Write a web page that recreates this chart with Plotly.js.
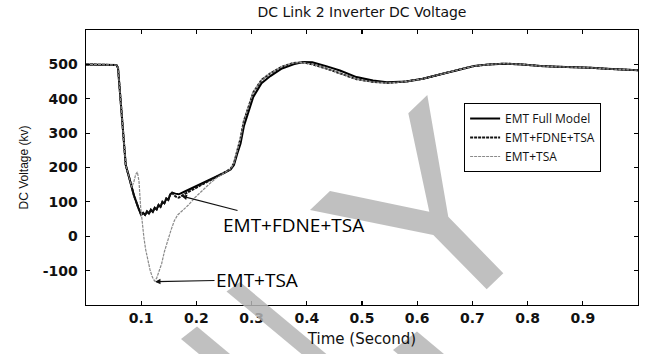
<!DOCTYPE html>
<html>
<head>
<meta charset="utf-8">
<script src="https://cdn.plot.ly/plotly-3.0.1.min.js"></script>
<style>html,body{margin:0;padding:0;background:#fff;}#chart{width:645px;height:354px;}</style>
</head>
<body>
<div id="chart"></div>
<script>
// ---- data ----
var seriesNames = ["EMT Full Model", "EMT+FDNE+TSA", "EMT+TSA"];

var timeFull = [0, 0.052, 0.055, 0.058, 0.061, 0.064, 0.068, 0.072, 0.078, 0.087, 0.095, 0.100, 0.1035, 0.107, 0.1105, 0.114, 0.1175, 0.121, 0.1245, 0.128, 0.1315, 0.135, 0.1385, 0.142, 0.1455, 0.149, 0.1525, 0.156, 0.162, 0.168, 0.180, 0.195, 0.212, 0.230, 0.250, 0.262, 0.268, 0.274, 0.280, 0.286, 0.293, 0.303, 0.318, 0.334, 0.355, 0.376, 0.393, 0.410, 0.435, 0.460, 0.490, 0.520, 0.545, 0.580, 0.610, 0.642, 0.675, 0.703, 0.730, 0.757, 0.790, 0.824, 0.855, 0.884, 0.915, 0.944, 0.975, 1.0];
var voltFull = [500, 500, 498, 490, 430, 355, 279, 207, 172, 118, 82, 62, 68, 62, 72, 66, 77, 71, 83, 78, 91, 86, 100, 96, 110, 106, 121, 127, 124, 122, 131, 142, 154, 168, 184, 194, 207, 240, 270, 320, 355, 405, 445, 466, 488, 500, 507, 506, 495, 482, 463, 453, 448, 450, 458, 471, 484, 495, 500, 502, 500, 495, 493, 492, 490, 487, 485, 483];

var timeFdne = timeFull;
var voltFdne = [500, 500, 498, 490, 430, 355, 279, 207, 172, 118, 82, 62, 68, 62, 72, 66, 77, 71, 83, 78, 91, 86, 100, 96, 110, 106, 121, 126, 116, 112, 124, 138, 152, 167, 184, 196, 212, 250, 285, 335, 372, 418, 455, 474, 493, 504, 506, 500, 488, 474, 457, 449, 446, 450, 458, 471, 484, 495, 500, 502, 500, 495, 493, 492, 490, 487, 485, 483];

var timeTsa = [0, 0.052, 0.055, 0.058, 0.061, 0.064, 0.068, 0.072, 0.078, 0.083, 0.087, 0.090, 0.093, 0.096, 0.099, 0.102, 0.105, 0.108, 0.112, 0.116, 0.120, 0.124, 0.128, 0.132, 0.137, 0.142, 0.148, 0.154, 0.160, 0.166, 0.175, 0.185, 0.197, 0.210, 0.222, 0.235, 0.250, 0.262, 0.268, 0.274, 0.280, 0.286, 0.293, 0.303, 0.318, 0.334, 0.355, 0.376, 0.393, 0.410, 0.435, 0.460, 0.490, 0.520, 0.545, 0.580, 0.610, 0.642, 0.675, 0.703, 0.730, 0.757, 0.790, 0.824, 0.855, 0.884, 0.915, 0.944, 0.975, 1.0];
var voltTsa = [500, 500, 498, 490, 430, 355, 279, 207, 172, 142, 160, 180, 187, 160, 85, 35, -5, -38, -70, -98, -118, -130, -122, -105, -80, -45, -10, 18, 45, 62, 75, 90, 112, 133, 150, 168, 184, 196, 212, 250, 285, 335, 372, 418, 455, 474, 493, 504, 506, 500, 488, 474, 457, 449, 446, 450, 458, 471, 484, 495, 500, 502, 500, 495, 493, 492, 490, 487, 485, 483];

var xTickVals = [0.1, 0.2, 0.3, 0.4, 0.5, 0.6, 0.7, 0.8, 0.9];
var yTickVals = [-100, 0, 100, 200, 300, 400, 500];

// annotation targets (data coordinates)
var noteFdne = {text: "EMT+FDNE+TSA", t: 0.173, v: 117};
var noteTsa  = {text: "EMT+TSA", t: 0.125, v: -132};

// ---- chart ----
var traces = [
  {x: timeFull, y: voltFull, name: seriesNames[0], mode: "lines",
   line: {color: "#000000", width: 2}},
  {x: timeFdne, y: voltFdne, name: seriesNames[1], mode: "lines",
   line: {color: "#111111", width: 2, dash: "3px,1px"}},
  {x: timeTsa, y: voltTsa, name: seriesNames[2], mode: "lines",
   line: {color: "#8a8a8a", width: 1.2, dash: "3px,1px"}}
];

var wm = "#b5b5b5";
function poly(pts){ return "M" + pts.map(function(p){return p[0]+","+p[1];}).join(" L") + " Z"; }

var layout = {
  width: 645, height: 354,
  margin: {l: 86, r: 7, t: 30, b: 49},
  paper_bgcolor: "#ffffff", plot_bgcolor: "#ffffff",
  font: {family: "DejaVu Sans", color: "#000"},
  title: {text: "DC Link 2 Inverter DC Voltage", x: 0.5, xref: "paper", xanchor: "center",
          y: 0.966, yref: "container", yanchor: "middle",
          font: {family: "DejaVu Sans", size: 14, color: "#111"}},
  xaxis: {range: [0, 1], tickvals: xTickVals, ticktext: xTickVals.map(String),
          ticks: "inside", ticklen: 4, tickwidth: 1.2, tickcolor: "#000",
          showline: true, linecolor: "#000", linewidth: 1.4, mirror: "ticks",
          showgrid: false, zeroline: false,
          tickfont: {family: "DejaVu Sans", size: 14, weight: "bold", color: "#111"},
          ticklabelstandoff: 0,
          title: {text: "Time (Second)", standoff: 8,
                  font: {family: "DejaVu Sans", size: 15, color: "#111"}}},
  yaxis: {range: [-200, 600], tickvals: yTickVals, ticktext: yTickVals.map(String),
          ticks: "inside", ticklen: 4, tickwidth: 1.2, tickcolor: "#000",
          showline: true, linecolor: "#000", linewidth: 1.4, mirror: "ticks",
          showgrid: false, zeroline: false,
          tickfont: {family: "DejaVu Sans", size: 14, weight: "bold", color: "#111"},
          ticklabelstandoff: 4,
          title: {text: "DC Voltage (kv)", standoff: 11,
                  font: {family: "Liberation Sans", size: 12, color: "#111"}}},
  showlegend: true,
  legend: {x: 0.685, y: 0.7345, xanchor: "left", yanchor: "top",
           bgcolor: "#ffffff", bordercolor: "#000", borderwidth: 1,
           font: {family: "Open Sans", size: 12, color: "#111"},
           tracegroupgap: 0, itemwidth: 30},
  annotations: [
    {x: noteFdne.t, y: noteFdne.v, xref: "x", yref: "y", text: noteFdne.text,
     showarrow: true, arrowhead: 2, arrowsize: 1, arrowwidth: 1.1, arrowcolor: "#111",
     ax: 112, ay: 29, font: {family: "Open Sans", size: 19, color: "#000"}},
    {x: noteTsa.t, y: noteTsa.v, xref: "x", yref: "y", text: noteTsa.text,
     showarrow: true, arrowhead: 2, arrowsize: 1, arrowwidth: 1.1, arrowcolor: "#111",
     ax: 102, ay: -2, font: {family: "Open Sans", size: 19, color: "#000"}}
  ],
  shapes: [
    {type: "path", xref: "paper", yref: "paper", layer: "above", line: {width: 0}, fillcolor: wm, opacity: 0.85,
     path: poly([[0.4058,0.3455],[0.4420,0.4145],[0.6219,0.3393],[0.5839,0.6971],[0.6183,0.7636],[0.6563,0.3211],[0.7560,0.1153],[0.7259,0.0571],[0.6292,0.2545]])},
    {type: "path", xref: "paper", yref: "paper", layer: "above", line: {width: 0}, fillcolor: wm, opacity: 0.85,
     path: poly([[0.2545,0.0491],[0.2790,0.0836],[0.4703,-0.2364],[0.4252,-0.2364]])},
    {type: "path", xref: "paper", yref: "paper", layer: "above", line: {width: 0}, fillcolor: wm, opacity: 0.85,
     path: poly([[0.1721,-0.1236],[0.2011,-0.0782],[0.2957,-0.2364],[0.2395,-0.2364]])},
    {type: "path", xref: "paper", yref: "paper", layer: "above", line: {width: 0}, fillcolor: wm, opacity: 0.85,
     path: poly([[0.5562,-0.1636],[0.5996,-0.0964],[0.6833,-0.2364],[0.5996,-0.2364]])}
  ]
};

Plotly.newPlot("chart", traces, layout, {displayModeBar: false, staticPlot: true});
</script>
</body>
</html>
